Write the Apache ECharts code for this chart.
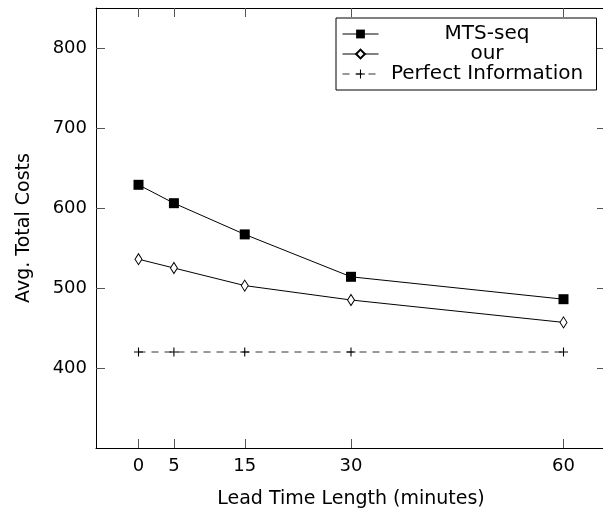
<!DOCTYPE html>
<html>
<head>
<meta charset="utf-8">
<script src="https://cdn.jsdelivr.net/npm/echarts@6/dist/echarts.min.js"></script>
<style>
  html, body { margin: 0; padding: 0; background: #fff; }
  #chart { width: 603px; height: 511px; }
</style>
</head>
<body>
<div id="chart"></div>
<script>
// Lead time (minutes) on the x axis
let leadTimes = [0, 5, 15, 30, 60];
let xTicks = [0, 5, 15, 30, 60];
let yTicks = [400, 500, 600, 700, 800];

// Avg. total costs per method
let mtsSeq = [629, 606, 567, 514, 486];
let ourCosts = [536, 525, 503, 485, 457];
let perfectInfo = [420, 420, 420, 420, 420];

let fontFamily = 'DejaVu Sans';
let plusPath = 'path://M-0.12,-1H0.12V-0.12H1V0.12H0.12V1H-0.12V0.12H-1V-0.12H-0.12Z';

function pairs(values) {
    return leadTimes.map(function (x, i) { return [x, values[i]]; });
}

let chart = echarts.init(document.getElementById('chart'));

let axisLine = { show: true, onZero: false, lineStyle: { color: '#000', width: 1 } };

let options = {
    animation: false,
    textStyle: { fontFamily: fontFamily },
    grid: { left: 96, top: 8, width: 510, height: 440, outerBoundsMode: 'none' },
    legend: {
        orient: 'vertical',
        left: 336,
        top: 18,
        padding: [6, 6, 6, 6],
        itemGap: 0,
        itemWidth: 36,
        itemHeight: 11,
        borderColor: '#000',
        borderWidth: 1,
        backgroundColor: '#fff',
        lineStyle: { width: 1 },
        formatter: function (name) { return '{c|' + name + '}'; },
        textStyle: {
            rich: {
                c: { width: 207, align: 'center', fontSize: 20, lineHeight: 26, color: '#000', fontFamily: fontFamily }
            }
        },
        data: ['MTS-seq', 'our', 'Perfect Information']
    },
    xAxis: [
        {
            type: 'value',
            min: -6,
            max: 66,
            name: 'Lead Time Length (minutes)',
            nameLocation: 'middle',
            nameGap: 42,
            nameTextStyle: { fontSize: 19, color: '#000' },
            axisLine: axisLine,
            axisTick: { show: true, inside: true, length: 9, customValues: xTicks, lineStyle: { color: '#555' } },
            axisLabel: { customValues: xTicks, fontSize: 18, color: '#000', margin: 9 },
            splitLine: { show: false }
        },
        {
            type: 'value',
            position: 'top',
            min: -6,
            max: 66,
            axisLine: axisLine,
            axisTick: { show: true, inside: true, length: 9, customValues: xTicks, lineStyle: { color: '#555' } },
            axisLabel: { show: false },
            splitLine: { show: false }
        }
    ],
    yAxis: [
        {
            type: 'value',
            min: 300,
            max: 850,
            name: 'Avg. Total Costs',
            nameLocation: 'middle',
            nameGap: 62,
            nameTextStyle: { fontSize: 19, color: '#000' },
            axisLine: axisLine,
            axisTick: { show: true, inside: true, length: 9, customValues: yTicks, lineStyle: { color: '#555' } },
            axisLabel: { customValues: yTicks, fontSize: 18, color: '#000', margin: 9 },
            splitLine: { show: false }
        },
        {
            type: 'value',
            position: 'right',
            min: 300,
            max: 850,
            axisLine: axisLine,
            axisTick: { show: true, inside: true, length: 9, customValues: yTicks, lineStyle: { color: '#555' } },
            axisLabel: { show: false },
            splitLine: { show: false }
        }
    ],
    series: [
        {
            name: 'MTS-seq',
            type: 'line',
            data: pairs(mtsSeq),
            symbol: 'rect',
            symbolSize: 10,
            showAllSymbol: true,
            lineStyle: { color: '#000', width: 1 },
            itemStyle: { color: '#000', borderColor: '#000', borderWidth: 0 },
            z: 3
        },
        {
            name: 'our',
            type: 'line',
            data: pairs(ourCosts),
            symbol: 'diamond',
            symbolSize: [7, 11],
            showAllSymbol: true,
            lineStyle: { color: '#000', width: 1 },
            itemStyle: { color: '#fff', borderColor: '#000', borderWidth: 1 },
            z: 3
        },
        {
            name: 'Perfect Information',
            type: 'line',
            data: pairs(perfectInfo),
            symbol: plusPath,
            symbolSize: 9,
            showAllSymbol: true,
            lineStyle: { color: '#333', width: 1, type: [7, 6] },
            itemStyle: { color: '#000', borderWidth: 0 },
            z: 2
        }
    ]
};

chart.setOption(options);
</script>
</body>
</html>
